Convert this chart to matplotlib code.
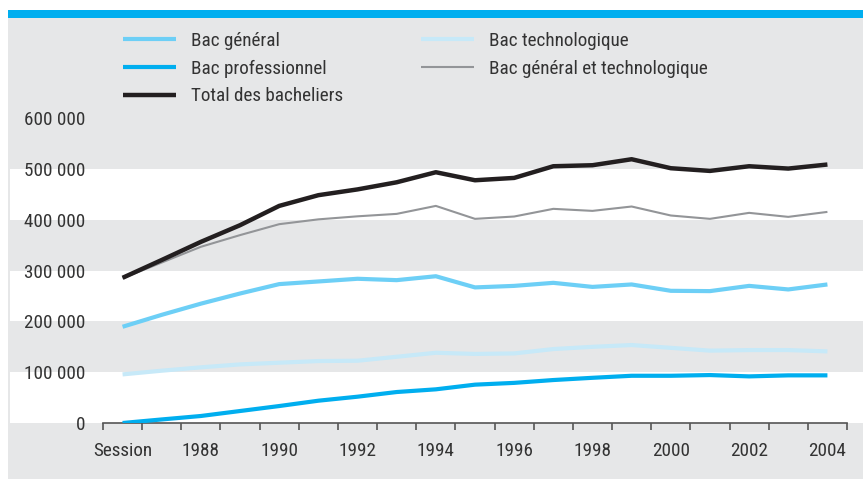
import matplotlib
matplotlib.use("Agg")
import matplotlib.pyplot as plt
from matplotlib import font_manager as fm
from matplotlib.lines import Line2D
from matplotlib.patches import Rectangle

# ---- data ----
years = list(range(1986, 2005))
x_labels = ["Session", "1988", "1990", "1992", "1994", "1996", "1998", "2000", "2002", "2004"]
bac_general = [189500, 213000, 235000, 255000, 273500, 278700, 284000, 281300, 289000, 267000,
               270000, 276000, 268000, 272800, 260300, 259700, 270000, 263000, 272800]
bac_techno = [95700, 103000, 109600, 115400, 118700, 122000, 122600, 130400, 138300, 136000,
              137000, 145600, 150000, 153500, 148000, 142500, 143600, 143600, 141000]
bac_pro = [0, 7000, 13800, 23600, 33400, 43900, 51800, 61000, 66300, 75500,
           79000, 84600, 89000, 93000, 93000, 94400, 91800, 93800, 93800]
bac_gen_tech = [285000, 316000, 347000, 370000, 391500, 401000, 407000, 411800, 427500, 402000,
                406600, 421700, 417700, 426300, 408600, 402000, 413800, 405900, 415700]
bac_total = [285900, 321000, 356700, 389500, 427500, 448600, 460000, 474000, 493800, 478000,
             482600, 505600, 507600, 519400, 501700, 496400, 505600, 501000, 509000]
y_ticks = [0, 100000, 200000, 300000, 400000, 500000, 600000]
y_tick_labels = ["0", "100 000", "200 000", "300 000", "400 000", "500 000", "600 000"]

# pick a condensed sans font if one is installed
fam, stretch = "DejaVu Sans", "condensed"
cands = [f for f in fm.fontManager.ttflist
         if ("Narrow" in f.name or "Condensed" in f.name
             or str(f.stretch) in ("condensed", "semi-condensed", "extra-condensed", "ultra-condensed"))]
for pref in ("Liberation Sans Narrow", "Roboto Condensed", "Open Sans Condensed", "Noto Sans", "DejaVu Sans"):
    hit = [f for f in cands if f.name.startswith(pref)]
    if hit:
        fam, stretch = hit[0].name, hit[0].stretch
        break
plt.rcParams["font.family"] = [fam, "DejaVu Sans"]
plt.rcParams["font.stretch"] = stretch

W, H = 863, 479
BG = "#e6e7e8"
TXT = "#333333"
FS = 13.8
fig = plt.figure(figsize=(W / 100, H / 100), dpi=100)
fig.patch.set_facecolor("white")

# panel + top bar
fig.patches.append(Rectangle((8 / W, 0), (W - 8) / W, (H - 17) / H, transform=fig.transFigure,
                             facecolor=BG, edgecolor="none", zorder=-10))
fig.patches.append(Rectangle((8 / W, (H - 17.5) / H), (W - 8) / W, 7.5 / H, transform=fig.transFigure,
                             facecolor="#00aeef", edgecolor="none", zorder=-10))

ax_l, ax_r, ax_b, ax_t = 103, 847, 423, 118.3
ax = fig.add_axes([ax_l / W, (H - ax_b) / H, (ax_r - ax_l) / W, (ax_b - ax_t) / H])
ax.set_facecolor("none")
ax.set_xlim(-0.5, len(years) - 0.5)
ax.set_ylim(0, 600000)

# white bands across full panel width
x0 = (10 - ax_l) / (ax_r - ax_l)
x1 = (W - ax_l) / (ax_r - ax_l)
for lo in (0, 200000, 400000):
    ax.axhspan(lo, lo + 100000, xmin=x0, xmax=x1, facecolor="white", edgecolor="none",
               clip_on=False, zorder=0)

xs = list(range(len(years)))
ax.plot(xs, bac_techno, color="#c7e9f8", lw=3.0, solid_capstyle="butt", zorder=3)
ax.plot(xs, bac_general, color="#6dcff6", lw=3.0, solid_capstyle="butt", zorder=3)
ax.plot(xs, bac_pro, color="#00aeef", lw=3.0, solid_capstyle="butt", zorder=3)
ax.plot(xs, bac_gen_tech, color="#939598", lw=1.5, solid_capstyle="butt", zorder=3)
ax.plot(xs, bac_total, color="#231f20", lw=3.2, solid_capstyle="butt", zorder=4)

for s in ("top", "left", "right"):
    ax.spines[s].set_visible(False)
ax.spines["bottom"].set_color("#555555")
ax.spines["bottom"].set_linewidth(1.2)

# x ticks: marks at boundaries, labels at every other category
ax.set_xticks([i - 0.5 for i in range(len(years) + 1)])
ax.set_xticklabels([])
ax.tick_params(axis="x", which="major", direction="out", length=5, width=1.2, color="#555555")
ax.set_xticks(list(range(0, len(years), 2)), minor=True)
ax.set_xticklabels(x_labels, minor=True)
ax.tick_params(axis="x", which="minor", length=0, pad=14, labelsize=FS, labelcolor=TXT)

ax.set_yticks(y_ticks)
ax.set_yticklabels(y_tick_labels)
ax.tick_params(axis="y", length=0, pad=13, labelsize=FS, labelcolor=TXT)

def handle(c, lw):
    return Line2D([], [], color=c, lw=lw, solid_capstyle="butt")

kw = dict(loc="upper left", frameon=False, fontsize=FS, handlelength=2.75, handletextpad=0.78,
          labelspacing=0.5, labelcolor=TXT, borderaxespad=0, borderpad=0)
leg1 = fig.legend([handle("#6dcff6", 3.0), handle("#00aeef", 3.0), handle("#231f20", 3.2)],
                  ["Bac général", "Bac professionnel", "Total des bacheliers"],
                  bbox_to_anchor=(123 / W, 1 - 32 / H), **kw)
leg2 = fig.legend([handle("#c7e9f8", 3.0), handle("#939598", 1.5)],
                  ["Bac technologique", "Bac général et technologique"],
                  bbox_to_anchor=(421 / W, 1 - 32 / H), **kw)

fig.savefig("out.png", dpi=100, facecolor=fig.get_facecolor())
